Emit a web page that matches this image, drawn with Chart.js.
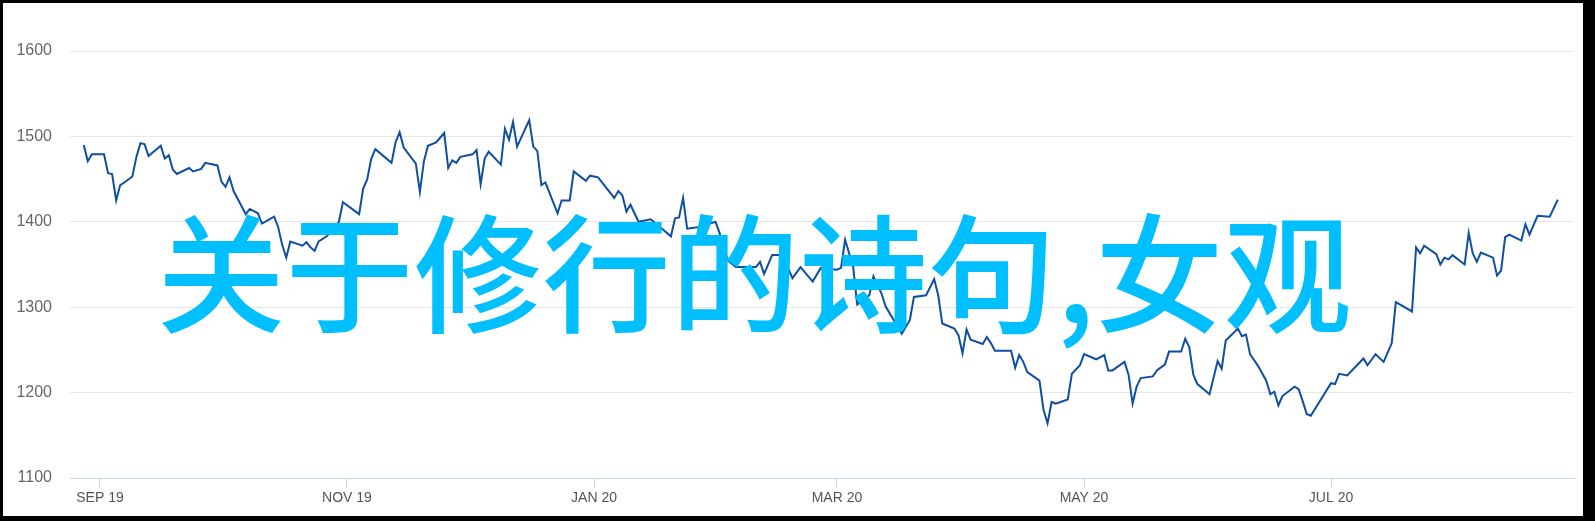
<!DOCTYPE html>
<html>
<head>
<meta charset="utf-8">
<script src="https://cdn.jsdelivr.net/npm/chart.js@4.4.0/dist/chart.umd.min.js"></script>
<style>
  html, body { margin: 0; padding: 0; background: #fff; }
  #wrap { position: relative; width: 1595px; height: 521px; overflow: hidden; }
  #chart { position: absolute; left: 0; top: 0; }
  #frame {
    position: absolute; left: 0; top: 0; width: 1595px; height: 521px;
    box-sizing: border-box; border-style: solid; border-color: #000;
    border-width: 3px 12px 5px 3px; pointer-events: none;
  }
  #overlay {
    position: absolute; left: 157px; top: 204px;
    font-family: "Noto Sans CJK SC", sans-serif; font-weight: 500;
    font-size: 128px; line-height: 1; letter-spacing: 0.5px;
    color: #00bfff; white-space: nowrap;
  }
</style>
</head>
<body>
<div id="wrap">
  <canvas id="chart" width="1595" height="521"></canvas>
  <div id="overlay">关于修行的诗句,女观</div>
  <div id="frame"></div>
</div>
<script>
// x values are days counted from 2019-09-01
const dayOffsets = [
  -4, -3, -2, 1, 2, 3, 4, 5, 6, 8, 9, 10, 11, 12, 15, 16, 17, 18, 19, 22, 23, 25, 26, 29, 30, 31, 32, 33, 36, 37, 39, 40,
  43, 44, 45, 46, 47, 50, 51, 52, 53, 54, 56, 59, 60, 64, 65, 66, 67, 68, 72, 73, 74, 75, 78, 79, 80, 81, 83, 85,
  86, 87, 88, 89, 92, 93, 94, 95, 96, 99, 100, 101, 102, 103, 106, 107, 108, 109, 110, 113, 114, 116, 117, 120, 121, 123,
  127, 128, 129, 130, 131, 133, 136, 139, 141, 142, 143, 144, 145, 148, 152, 153, 155, 157, 159, 162, 163, 164, 166, 168,
  170, 171, 173, 176, 178, 182, 183, 184, 186, 187, 190, 191, 193, 194, 196, 198, 200, 201, 204, 206, 207, 208, 211, 212,
  213, 214, 215, 218, 219, 220, 221, 225, 226, 227, 228, 229, 232, 233, 234, 235, 236, 239, 240, 242, 243, 246, 248, 249,
  250, 253, 254, 255, 256, 257, 260, 261, 263, 264, 267, 268, 269, 270, 271, 274, 276, 277, 278, 281, 282, 283, 284, 286,
  288, 289, 290, 291, 292, 295, 296, 297, 298, 299, 304, 305, 306, 308, 310, 312, 313, 315, 317, 319, 320, 324, 325, 326,
  327, 330, 331, 332, 333, 334, 337, 338, 339, 340, 341, 344, 345, 346, 347, 348, 351, 352, 353, 355, 358, 360
];
const values = [
  1490, 1471, 1479, 1479, 1457, 1456, 1425, 1443, 1446, 1453, 1476, 1492, 1491, 1477, 1489, 1474, 1478, 1461, 1456, 1463, 1459, 1462, 1469, 1466, 1447, 1441, 1452, 1436, 1409, 1415, 1410, 1398,
  1406, 1394, 1373, 1358, 1377, 1372, 1376, 1370, 1366, 1377, 1383, 1400, 1423, 1409, 1439, 1450, 1474, 1485, 1469, 1493, 1505, 1487, 1468, 1435, 1471, 1489, 1493, 1504,
  1463, 1472, 1469, 1476, 1479, 1484, 1444, 1474, 1482, 1467, 1509, 1496, 1517, 1488, 1519, 1488, 1483, 1443, 1446, 1410, 1425, 1425, 1459, 1448, 1454, 1452,
  1428, 1436, 1431, 1412, 1420, 1400, 1403, 1391, 1383, 1404, 1405, 1428, 1392, 1394, 1400, 1387, 1355, 1347, 1347, 1347, 1353, 1339, 1361, 1361,
  1345, 1334, 1347, 1330, 1346, 1344, 1346, 1379, 1347, 1303, 1314, 1336, 1316, 1301, 1285, 1269, 1285, 1312, 1314, 1333, 1314, 1281, 1275, 1267,
  1246, 1274, 1262, 1257, 1265, 1258, 1249, 1249, 1229, 1244, 1236, 1224, 1214, 1180, 1164, 1189, 1187, 1192, 1222, 1232, 1245, 1239, 1244, 1226,
  1226, 1236, 1221, 1187, 1207, 1217, 1219, 1226, 1233, 1248, 1248, 1263, 1253, 1221, 1210, 1198, 1237, 1228, 1261, 1275, 1266, 1268, 1245, 1231,
  1214, 1198, 1201, 1185, 1196, 1207, 1204, 1190, 1175, 1173, 1211, 1210, 1222, 1220, 1230, 1240, 1232, 1245, 1236, 1258, 1306, 1295, 1370, 1363,
  1372, 1362, 1350, 1358, 1356, 1361, 1350, 1387, 1363, 1353, 1364, 1358, 1337, 1343, 1382, 1385, 1378, 1397, 1385, 1407, 1406, 1426
];

// month ticks (days from 2019-09-01) and their labels
const tickDays = [0, 61, 122, 182, 243, 304];
const tickLabels = ['SEP 19', 'NOV 19', 'JAN 20', 'MAR 20', 'MAY 20', 'JUL 20'];

const ctx = document.getElementById('chart').getContext('2d');
const priceChart = new Chart(ctx, {
    type: 'line',
    data: {
        datasets: [{
            data: dayOffsets.map((d, i) => ({ x: d, y: values[i] })),
            borderColor: '#0f4f9e',
            borderWidth: 2,
            pointRadius: 0,
            tension: 0,
            fill: false
        }]
    },
    options: {
        responsive: false,
        animation: false,
        layout: { padding: { top: 51, right: 21, bottom: 0, left: 0 } },
        plugins: {
            legend: { display: false },
            tooltip: { enabled: false }
        },
        scales: {
            x: {
                type: 'linear',
                min: -7.4,
                max: 364,
                afterBuildTicks: scale => { scale.ticks = tickDays.map(v => ({ value: v })); },
                afterFit: scale => { scale.height = 43; },
                grid: { drawOnChartArea: false, drawTicks: true, tickLength: 10, color: '#ccd6eb' },
                border: { display: true, color: '#ccd6eb' },
                ticks: {
                    autoSkip: false,
                    maxRotation: 0,
                    padding: 2,
                    color: '#555',
                    font: { family: "'Liberation Sans', Arial, sans-serif", size: 14 },
                    callback: (v, i) => tickLabels[i]
                }
            },
            y: {
                min: 1100,
                max: 1600,
                afterFit: scale => { scale.width = 70; },
                grid: { color: '#e6e6e6', drawTicks: false },
                border: { display: false },
                ticks: {
                    stepSize: 100,
                    padding: 18,
                    color: '#666',
                    font: { family: "'Liberation Sans', Arial, sans-serif", size: 16 },
                    callback: v => String(v)
                }
            }
        }
    }
});
</script>
</body>
</html>
